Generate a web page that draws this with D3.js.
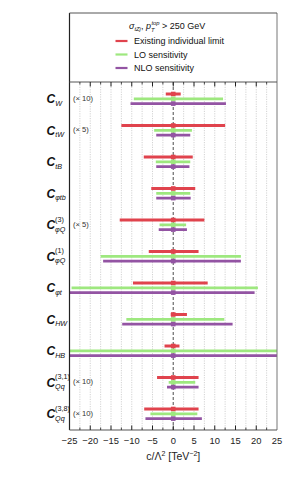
<!DOCTYPE html>
<html>
<head>
<meta charset="utf-8">
<script src="https://cdn.jsdelivr.net/npm/d3@7"></script>
<style>
  body { margin: 0; background: #fff; }
  svg { display: block; font-family: "Liberation Sans", Arial, sans-serif; }
</style>
</head>
<body>
<svg id="chart" width="291" height="482"></svg>
<script>
// coefficient rows, top to bottom
const coefNames = ["W", "tW", "tB", "φtb", "φQ", "φQ", "φt", "HW", "HB", "Qq", "Qq"];
const coefSups  = ["", "", "", "", "(3)", "(1)", "", "", "", "(3,1)", "(3,8)"];
const scaleTags = ["(× 10)", "(× 5)", "", "", "(× 5)", "", "", "", "", "(× 10)", "(× 10)"];

// intervals [low, high] in TeV^-2
const existingLimit = [[-1.8, 1.8], [-12.5, 12.5], [-7.1, 4.7], [-5.3, 5.3], [-12.9, 7.5], [-5.9, 6.1],
                       [-9.7, 8.3], [-0.6, 3.3], [-2.1, 1.5], [-3.9, 6.1], [-7.0, 6.1]];
const loSens  = [[-9.5, 12.0], [-4.6, 4.5], [-4.2, 4.1], [-4.1, 4.1], [-3.3, 3.1], [-17.5, 16.3],
                 [-24.5, 20.4], [-11.3, 12.3], [-30, 30], [-1.1, 5.3], [-5.5, 5.8]];
const nloSens = [[-10.3, 12.7], [-4.1, 4.1], [-4.1, 3.9], [-4.1, 4.2], [-3.5, 3.3], [-16.9, 16.3],
                 [-26.0, 19.6], [-12.3, 14.3], [-30, 30], [-1.5, 6.1], [-6.7, 6.9]];

const xTicks = [-25, -20, -15, -10, -5, 0, 5, 10, 15, 20, 25];

const series = [
  {name: "Existing individual limit", color: "#e0434d", vals: existingLimit, off: 0},
  {name: "LO sensitivity", color: "#9ee87f", vals: loSens, off: 4.9},
  {name: "NLO sensitivity", color: "#9354a3", vals: nloSens, off: 9.6}
];

const svg = d3.select("#chart");
const pLeft = 69.5, pRight = 277, pTop = 82, pBottom = 430;

const x = d3.scaleLinear().domain([-25, 25]).range([pLeft, pRight]);
const y = d3.scaleLinear().domain([0, 10]).range([94, 409]);

svg.append("clipPath").attr("id", "clip")
  .append("rect").attr("x", pLeft).attr("y", pTop).attr("width", pRight - pLeft).attr("height", pBottom - pTop);

// gridlines every 2.5
const grid = d3.range(-22.5, 25, 2.5).filter(d => d !== 0);
svg.append("g").selectAll("line").data(grid).join("line")
  .attr("x1", d => x(d)).attr("x2", d => x(d))
  .attr("y1", pTop).attr("y2", pBottom)
  .attr("stroke", "#c8c8c8").attr("stroke-width", 0.8)
  .attr("stroke-dasharray", "1.2,1.2");

// zero line
svg.append("line")
  .attr("x1", x(0)).attr("x2", x(0)).attr("y1", pTop).attr("y2", pBottom)
  .attr("stroke", "#6a6a6a").attr("stroke-width", 1.2).attr("stroke-dasharray", "3,2");

// bars
const bars = svg.append("g").attr("clip-path", "url(#clip)");
series.forEach(s => {
  s.vals.forEach((v, i) => {
    const yy = y(i) + s.off;
    bars.append("line")
      .attr("x1", x(v[0])).attr("x2", x(v[1]))
      .attr("y1", yy).attr("y2", yy)
      .attr("stroke", s.color).attr("stroke-width", 2.8);
    bars.append("rect")
      .attr("x", x(0) - 2.3).attr("y", yy - 2.3)
      .attr("width", 4.6).attr("height", 4.6)
      .attr("fill", s.color);
  });
});

// frame
svg.append("line").attr("x1", pRight).attr("x2", pRight).attr("y1", 13).attr("y2", pBottom)
  .attr("stroke", "#777").attr("stroke-width", 1);
svg.append("line").attr("x1", pLeft).attr("x2", pLeft).attr("y1", 13).attr("y2", pBottom)
  .attr("stroke", "#222").attr("stroke-width", 1.2);
svg.append("line").attr("x1", pLeft).attr("x2", pRight).attr("y1", 13).attr("y2", 13)
  .attr("stroke", "#555").attr("stroke-width", 1);
svg.append("line").attr("x1", pLeft).attr("x2", pRight).attr("y1", pTop).attr("y2", pTop)
  .attr("stroke", "#555").attr("stroke-width", 1);
svg.append("line").attr("x1", pLeft).attr("x2", pRight).attr("y1", pBottom).attr("y2", pBottom)
  .attr("stroke", "#555").attr("stroke-width", 1.2);

// ticks (inward)
const minor = d3.range(-22.5, 25, 5);
[[pTop, 1], [pBottom, -1]].forEach(([yy, dir]) => {
  svg.append("g").selectAll("line").data(xTicks.slice(1, -1)).join("line")
    .attr("x1", d => x(d)).attr("x2", d => x(d))
    .attr("y1", yy).attr("y2", yy + dir * 4.5)
    .attr("stroke", "#222").attr("stroke-width", 1);
  svg.append("g").selectAll("line").data(minor).join("line")
    .attr("x1", d => x(d)).attr("x2", d => x(d))
    .attr("y1", yy).attr("y2", yy + dir * 2.5)
    .attr("stroke", "#222").attr("stroke-width", 0.8);
});

// tick labels
svg.append("g").selectAll("text").data(xTicks).join("text")
  .attr("x", d => x(d)).attr("y", 443.5)
  .attr("text-anchor", "middle")
  .attr("font-size", 9.4).attr("fill", "#222")
  .text(d => d < 0 ? "−" + Math.abs(d) : d);

// axis title
const xt = svg.append("text").attr("x", x(0)).attr("y", 459.5)
  .attr("text-anchor", "middle").attr("font-size", 10.5).attr("fill", "#222");
xt.append("tspan").text("c/Λ");
xt.append("tspan").attr("font-size", 7).attr("dy", -4).text("2");
xt.append("tspan").attr("dy", 4).text(" [TeV");
xt.append("tspan").attr("font-size", 7).attr("dy", -4).text("−2");
xt.append("tspan").attr("dy", 4).text("]");

// row labels
coefNames.forEach((n, i) => {
  const base = y(i) + 9;
  const t = svg.append("text").attr("x", 46.5).attr("y", base)
    .attr("fill", "#111").attr("font-style", "italic");
  t.append("tspan").attr("font-size", 12).attr("font-weight", "bold").text("C");
  if (coefSups[i]) {
    const sx = 46.5 + 8.6;
    svg.append("text").attr("x", sx).attr("y", base - 7.5)
      .attr("font-size", 7.2).attr("fill", "#111").text(coefSups[i]);
    svg.append("text").attr("x", sx).attr("y", base + 2.5)
      .attr("font-size", 7.2).attr("font-style", "italic").attr("fill", "#111").text(n);
  } else {
    t.append("tspan").attr("font-size", 7.2).attr("dy", 2.5).text(n);
  }
  if (scaleTags[i]) {
    svg.append("text").attr("x", 73).attr("y", y(i) + 6.5)
      .attr("font-size", 7.6).attr("fill", "#333").text(scaleTags[i]);
  }
});

// legend
const lt = svg.append("text").attr("x", 129).attr("y", 29)
  .attr("font-size", 9).attr("fill", "#111");
lt.append("tspan").attr("font-style", "italic").text("σ");
lt.append("tspan").attr("font-size", 5.8).attr("dy", 2).attr("font-style", "italic").text("tZj");
lt.append("tspan").attr("dy", -2).text(", ");
lt.append("tspan").attr("font-style", "italic").text("p");
lt.append("tspan").attr("font-size", 5.8).attr("dy", 2.5).attr("font-style", "italic").text("T");
lt.append("tspan").attr("font-size", 5.8).attr("dy", -7).attr("dx", -3).attr("font-style", "italic").text("top");
lt.append("tspan").attr("dy", 4.5).text(" > 250 GeV");

series.forEach((s, i) => {
  const yy = 41 + i * 13.5;
  svg.append("line").attr("x1", 115.5).attr("x2", 127.5).attr("y1", yy).attr("y2", yy)
    .attr("stroke", s.color).attr("stroke-width", 2.2);
  svg.append("text").attr("x", 134).attr("y", yy + 3.2)
    .attr("font-size", 9).attr("fill", "#111").text(s.name);
});
</script>
</body>
</html>
